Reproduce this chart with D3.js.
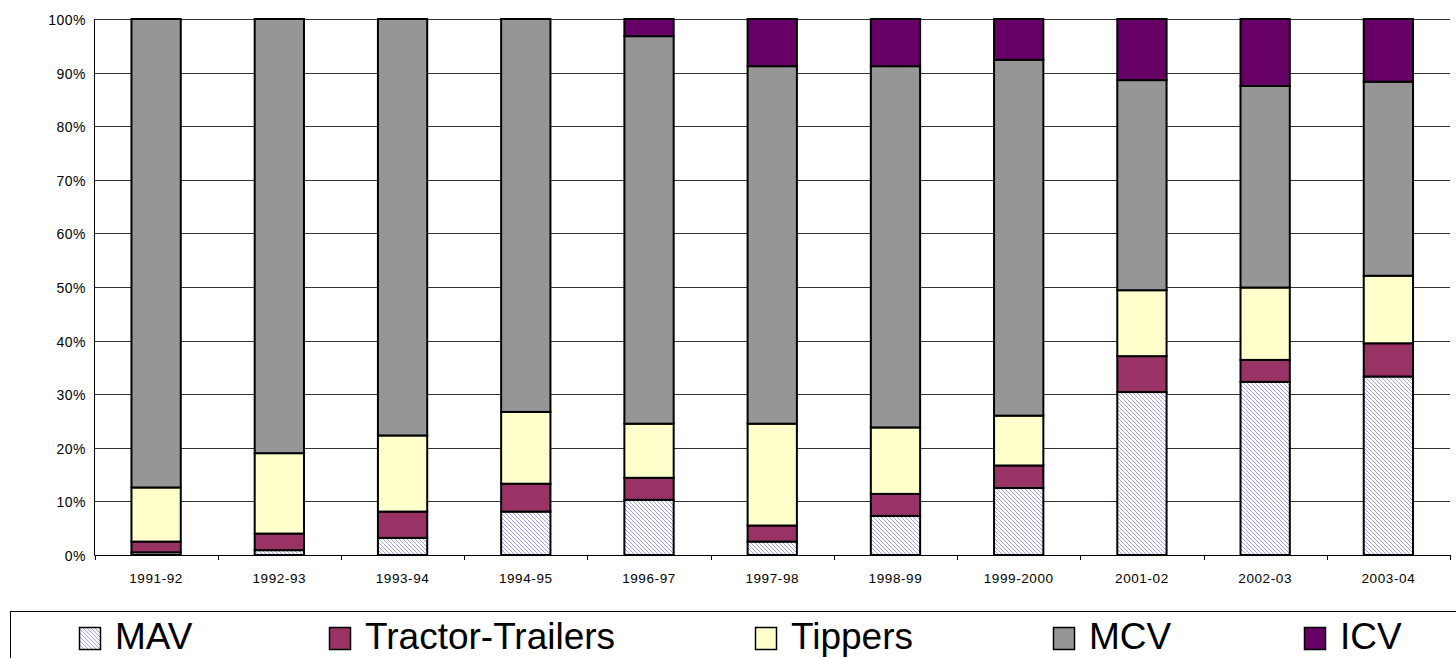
<!DOCTYPE html>
<html>
<head>
<meta charset="utf-8">
<script src="https://cdn.jsdelivr.net/npm/d3@7"></script>
<style>
  html, body { margin: 0; padding: 0; background: #fff; }
  svg { display: block; font-family: "Liberation Sans", Arial, sans-serif; }
</style>
</head>
<body>
<svg id="chart" width="1456" height="658"></svg>
<script>
// Share of commercial vehicle segments by year (percent of total)
const years = ["1991-92", "1992-93", "1993-94", "1994-95", "1996-97", "1997-98",
               "1998-99", "1999-2000", "2001-02", "2002-03", "2003-04"];
const seriesNames = ["MAV", "Tractor-Trailers", "Tippers", "MCV", "ICV"];
const mav      = [0.5, 0.9, 3.2, 8.1, 10.3, 2.5, 7.3, 12.5, 30.4, 32.3, 33.3];
const tractor  = [2.0, 3.1, 4.9, 5.2, 4.1, 3.0, 4.1, 4.2, 6.7, 4.1, 6.2];
const tippers  = [10.1, 15.0, 14.2, 13.4, 10.1, 19.0, 12.4, 9.3, 12.3, 13.5, 12.6];
const mcv      = [87.4, 81.0, 77.7, 73.3, 72.3, 66.7, 67.4, 66.4, 39.2, 37.6, 36.2];
const icv      = [0.0, 0.0, 0.0, 0.0, 3.2, 8.8, 8.8, 7.6, 11.4, 12.5, 11.7];
const yTicks   = [0, 10, 20, 30, 40, 50, 60, 70, 80, 90, 100];

const fills = ["url(#mavHatch)", "#993366", "#ffffcc", "#969696", "#660066"];

const rows = years.map((yr, i) => ({
  year: yr, "MAV": mav[i], "Tractor-Trailers": tractor[i], "Tippers": tippers[i],
  "MCV": mcv[i], "ICV": icv[i]
}));

const svg = d3.select("#chart");

// light diagonal hatch for the MAV segment
const defs = svg.append("defs");
const pat = defs.append("pattern")
  .attr("id", "mavHatch")
  .attr("patternUnits", "userSpaceOnUse")
  .attr("width", 4).attr("height", 4);
pat.append("rect").attr("width", 4).attr("height", 4).attr("fill", "#fff");
pat.append("path")
  .attr("d", "M-1,-1 L5,5 M-1,3 L1,5 M3,-1 L5,1")
  .attr("stroke", "#9ea2fa").attr("stroke-width", 1);

const plotLeft = 94.5, plotRight = 1450, plotTop = 19, plotBottom = 555;

const x = d3.scaleBand().domain(years).range([plotLeft, plotRight])
  .paddingInner(0.6).paddingOuter(0.3);
const y = d3.scaleLinear().domain([0, 100]).range([plotBottom, plotTop]);

// gridlines
svg.append("g").selectAll("line").data(yTicks.filter(t => t > 0)).join("line")
  .attr("x1", plotLeft).attr("x2", plotRight)
  .attr("y1", d => Math.round(y(d)) + 0.5).attr("y2", d => Math.round(y(d)) + 0.5)
  .attr("stroke", "#333").attr("stroke-width", 1);

// y axis labels
svg.append("g").selectAll("text").data(yTicks).join("text")
  .attr("x", 86).attr("y", d => Math.round(y(d)) + 0.5)
  .attr("text-anchor", "end").attr("dominant-baseline", "central")
  .attr("font-size", 14).attr("letter-spacing", 0.5)
  .attr("fill", "#000")
  .text(d => d + "%");

// stacked bars
const stack = d3.stack().keys(seriesNames)(rows);
const layers = svg.append("g").selectAll("g").data(stack).join("g")
  .attr("fill", (d, i) => fills[i]);
layers.selectAll("rect").data(d => d.filter(s => s[1] - s[0] > 0)).join("rect")
  .attr("x", d => x(d.data.year))
  .attr("width", x.bandwidth())
  .attr("y", d => y(d[1]))
  .attr("height", d => y(d[0]) - y(d[1]))
  .attr("stroke", "#000").attr("stroke-width", 2);

// axis lines
svg.append("line").attr("x1", plotLeft).attr("x2", plotLeft).attr("y1", plotTop).attr("y2", plotBottom + 0.5)
  .attr("stroke", "#000").attr("stroke-width", 1);
svg.append("line").attr("x1", plotLeft).attr("x2", plotRight).attr("y1", plotBottom + 0.5).attr("y2", plotBottom + 0.5)
  .attr("stroke", "#000").attr("stroke-width", 1);

// category boundary ticks
const step = x.step();
const boundaries = d3.range(years.length + 1).map(i => plotLeft + i * step);
svg.append("g").selectAll("line").data(boundaries).join("line")
  .attr("x1", d => Math.round(d) + 0.5).attr("x2", d => Math.round(d) + 0.5)
  .attr("y1", plotBottom).attr("y2", plotBottom + 5)
  .attr("stroke", "#000").attr("stroke-width", 1);

// x labels
svg.append("g").selectAll("text").data(years).join("text")
  .attr("x", d => x(d) + x.bandwidth() / 2)
  .attr("y", 583)
  .attr("text-anchor", "middle")
  .attr("font-size", 13.5).attr("letter-spacing", 0.6)
  .attr("fill", "#000")
  .text(d => d);

// legend
svg.append("rect").attr("x", 10.5).attr("y", 611.5).attr("width", 1500).attr("height", 100)
  .attr("fill", "#fff").attr("stroke", "#000").attr("stroke-width", 1);

const legendX = [79, 329, 755, 1053, 1304];
const legend = svg.append("g").selectAll("g").data(seriesNames).join("g")
  .attr("transform", (d, i) => `translate(${legendX[i]},0)`);
legend.append("rect")
  .attr("x", 0.5).attr("y", 627.5).attr("width", 21).attr("height", 22)
  .attr("fill", (d, i) => fills[i]).attr("stroke", "#000").attr("stroke-width", 1.5);
legend.append("text")
  .attr("x", 36).attr("y", 649)
  .attr("font-size", 37).attr("fill", "#000")
  .text(d => d);
</script>
</body>
</html>
